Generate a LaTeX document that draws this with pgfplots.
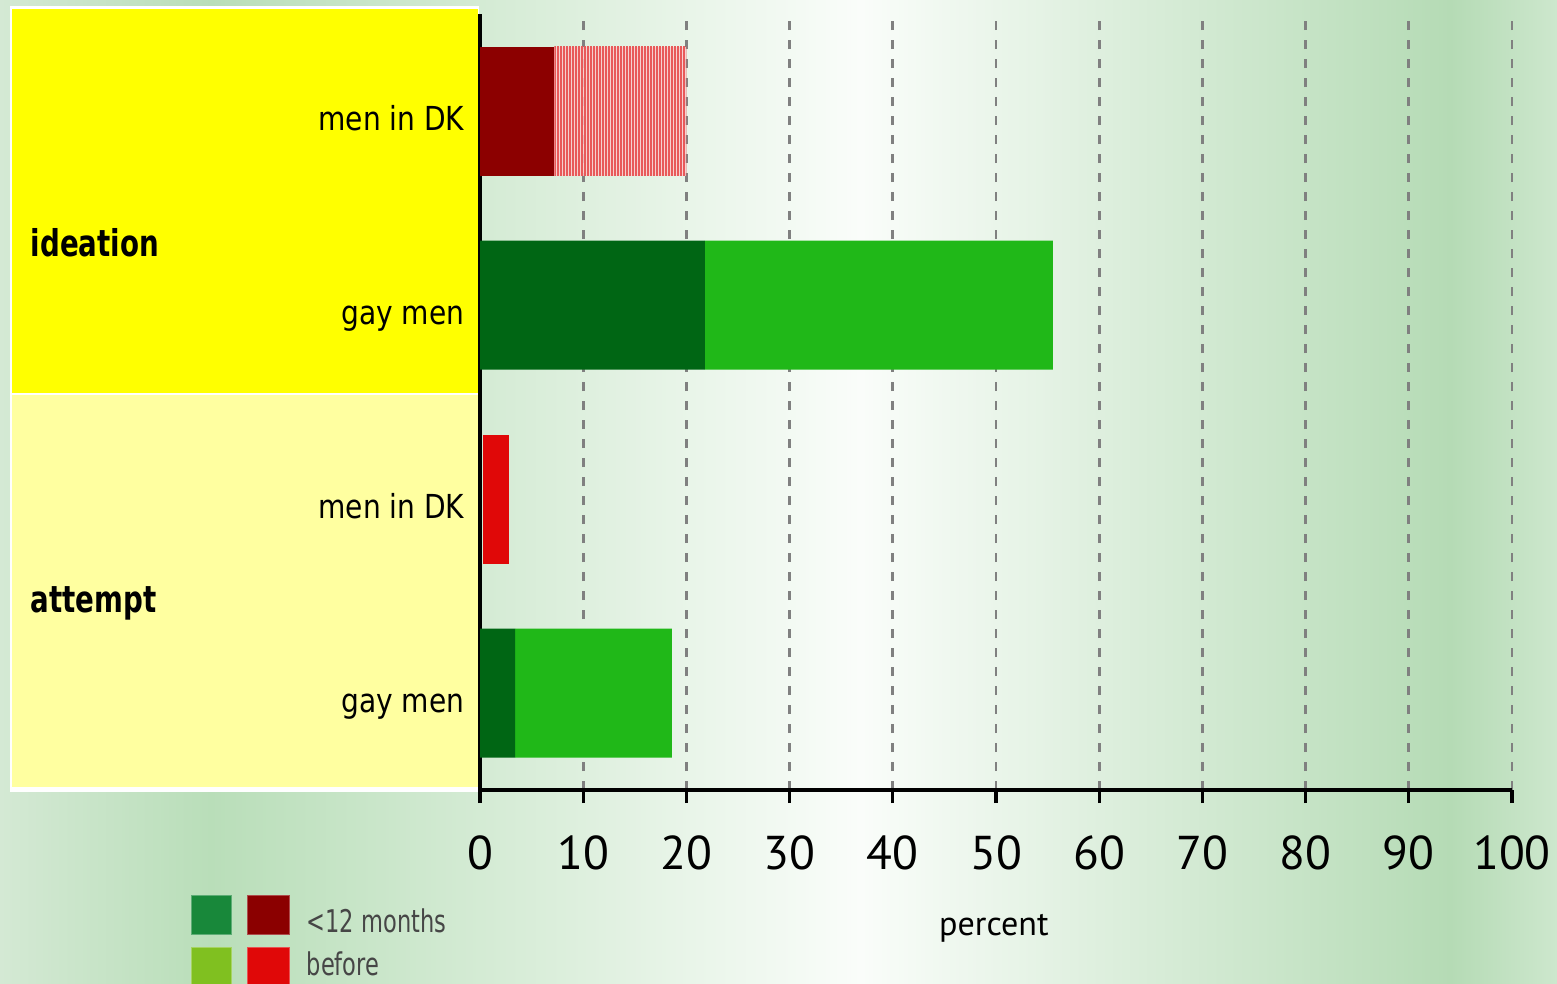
\documentclass[border=0pt]{standalone}
\usepackage{fontspec}
\usepackage{pgfplots}
\pgfplotsset{compat=1.18}
\usetikzlibrary{patterns.meta}
\setmainfont{DejaVu Sans}
\newfontfamily\tickfont{PT Sans}
\newfontfamily\labfont[FakeStretch=0.85]{DejaVu Sans}
\newfontfamily\grpfont[FakeStretch=0.75]{DejaVu Sans}
\newfontfamily\legfont[FakeStretch=0.72]{DejaVu Sans}
\definecolor{darkred}{RGB}{140,0,0}
\definecolor{dkgreen}{RGB}{0,102,20}
\definecolor{brgreen}{RGB}{32,184,24}
\definecolor{attred}{RGB}{224,8,8}
\definecolor{hatchbg}{RGB}{250,205,205}
\definecolor{hatchln}{RGB}{232,90,90}
\definecolor{gridgray}{RGB}{128,128,128}
\definecolor{bgA}{RGB}{212,233,212}
\definecolor{bgB}{RGB}{185,222,185}
\definecolor{bgC}{RGB}{250,253,250}
\definecolor{bgD}{RGB}{181,219,181}
\definecolor{bgE}{RGB}{205,231,205}
\definecolor{panelA}{RGB}{255,255,0}
\definecolor{panelB}{RGB}{255,255,160}
\definecolor{legG1}{RGB}{24,136,58}
\definecolor{legG2}{RGB}{128,192,32}
\definecolor{legR1}{RGB}{139,0,0}
\definecolor{legR2}{RGB}{224,8,8}
\definecolor{legtext}{RGB}{70,70,70}
\begin{document}
\begin{tikzpicture}
% background
\shade[left color=bgA, right color=bgB] (0,0) rectangle (2.11cm,9.83cm);
\shade[left color=bgB, right color=bgC] (2.10cm,0) rectangle (8.61cm,9.83cm);
\shade[left color=bgC, right color=bgD] (8.60cm,0) rectangle (14.51cm,9.83cm);
\shade[left color=bgD, right color=bgE] (14.50cm,0) rectangle (15.57cm,9.83cm);
% category panels
\fill[white] (0.10cm,1.91cm) rectangle (4.79cm,9.77cm);
\fill[panelA] (0.12cm,5.90cm) rectangle (4.78cm,9.74cm);
\fill[panelB] (0.12cm,1.96cm) rectangle (4.78cm,5.88cm);
\node[anchor=base west, inner sep=0pt, font=\grpfont\bfseries\fontsize{10.5}{12}\selectfont] at (0.30cm,7.27cm) {ideation};
\node[anchor=base west, inner sep=0pt, font=\grpfont\bfseries\fontsize{10.5}{12}\selectfont] at (0.30cm,3.71cm) {attempt};
\begin{axis}[
  at={(4.80cm,1.93cm)}, anchor=south west, scale only axis,
  width=10.32cm, height=7.76cm,
  xmin=0, xmax=100, ymin=-0.5, ymax=3.5,
  xbar stacked, bar width=12.9mm,
  axis lines*=left,
  axis line style={-, black, line width=0.9pt},
  xtick={0,10,...,100},
  ytick={0,1,2,3},
  yticklabels={gay men, men in DK, gay men, men in DK},
  ytick style={draw=none},
  xtick style={black, line width=0.9pt},
  tick align=outside,
  major tick length=1.3mm,
  xmajorgrids,
  major grid style={gridgray, line width=0.8pt, dash pattern=on 0.9mm off 1.0mm},
  /pgf/number format/assume math mode=true,
  xticklabel style={font=\tickfont\fontsize{13.5}{16}\selectfont, anchor=base, inner sep=0pt, yshift=-6.6mm},
  yticklabel style={font=\labfont\fontsize{9.4}{11}\selectfont, anchor=base east, inner sep=0pt, xshift=-0.2mm, yshift=-1.9mm},
  xlabel={percent},
  xlabel style={font=\tickfont\fontsize{9.7}{11}\selectfont, at={(axis description cs:0.498,-0.188)}, anchor=base, inner sep=0pt},
  legend style={at={(axis description cs:-0.281,-0.134)}, anchor=north west, draw=none, fill=none, inner sep=0pt, row sep=1.2mm, column sep=1.7mm,
    nodes={inner sep=0pt, text height=3.5mm, text depth=0pt, font=\legfont\fontsize{8.9}{10}\selectfont, text=legtext}},
  legend cell align=left,
]
% <12 months, men in DK
\addplot[forget plot, fill=darkred, draw=none] coordinates {(7.2,3) (0,2) (0,1) (0,0)};
% <12 months, gay men
\addplot[forget plot, fill=dkgreen, draw=none] coordinates {(0,3) (21.8,2) (0,1) (3.4,0)};
% gap before the attempt bar of men in DK
\addplot[forget plot, fill=none, draw=none] coordinates {(0,3) (0,2) (0.25,1) (0,0)};
% before, men in DK (hatched)
\addplot[forget plot, draw=none, fill=hatchbg, fill opacity=0.85,
  postaction={pattern={Lines[angle=90,distance=0.3mm,line width=0.15mm]}, pattern color=hatchln}]
  coordinates {(12.8,3) (0,2) (0,1) (0,0)};
% before, gay men
\addplot[forget plot, fill=brgreen, draw=none] coordinates {(0,3) (33.7,2) (0,1) (15.2,0)};
% attempt, men in DK
\addplot[forget plot, fill=attred, draw=none] coordinates {(0,3) (0,2) (2.55,1) (0,0)};
\addlegendimage{legend image code/.code={
  \draw[fill=legG1, draw=legG1!70!white, line width=0.3pt] (0cm,-0.195cm) rectangle (0.40cm,0.195cm);
  \draw[fill=legR1, draw=legR1!70!white, line width=0.3pt] (0.56cm,-0.195cm) rectangle (0.98cm,0.195cm);}}
\addlegendentry{<12 months}
\addlegendimage{legend image code/.code={
  \draw[fill=legG2, draw=legG2!70!white, line width=0.3pt] (0cm,-0.195cm) rectangle (0.40cm,0.195cm);
  \draw[fill=legR2, draw=legR2!70!white, line width=0.3pt] (0.56cm,-0.195cm) rectangle (0.98cm,0.195cm);}}
\addlegendentry{\raisebox{0.9mm}{before}}
\end{axis}
\pgfresetboundingbox
\path[use as bounding box] (0,0) rectangle (15.57cm,9.83cm);
\end{tikzpicture}
\end{document}
